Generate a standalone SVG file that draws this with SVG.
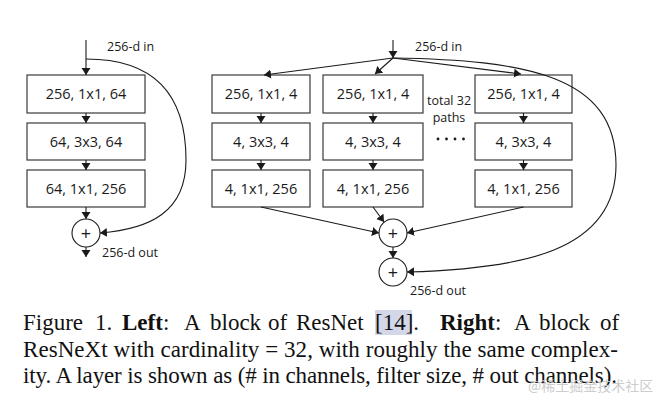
<svg xmlns="http://www.w3.org/2000/svg" width="664" height="408" viewBox="0 0 664 408">
<defs>
<style>
.box{fill:#fff;stroke:#3a3a3a;stroke-width:1.2}
.lbl{font-family:"Open Sans","Liberation Sans",sans-serif;font-size:14.5px;fill:#1a1a1a;text-anchor:middle}
.sm{font-family:"Open Sans","Liberation Sans",sans-serif;font-size:12.5px;fill:#1a1a1a}
.ar{fill:none;stroke:#1a1a1a;stroke-width:1.1;marker-end:url(#ah)}
.cir{fill:#fff;stroke:#1a1a1a;stroke-width:1.1}
.plus{font-family:"Open Sans","Liberation Sans",sans-serif;font-size:18px;fill:#1a1a1a;text-anchor:middle}
.cap{font-family:"Liberation Serif","Times New Roman",serif;font-size:23px;fill:#111}
.b{font-weight:bold}
</style>
<marker id="ah" markerUnits="userSpaceOnUse" markerWidth="8" markerHeight="10" refX="7" refY="5" orient="auto">
<path d="M0,0.5 L7,5 L0,9.5 z" fill="#1a1a1a"/>
</marker>
</defs>
<rect width="664" height="408" fill="#fff"/>

<!-- Left: ResNet block -->
<g id="left-in"><text class="sm" x="107" y="51">256-d in</text></g>
<g id="l1"><rect class="box" x="27" y="75" width="118" height="38"/><text class="lbl" x="86" y="99">256, 1x1, 64</text></g>
<g id="l2"><rect class="box" x="27" y="123" width="118" height="37"/><text class="lbl" x="86" y="146.5">64, 3x3, 64</text></g>
<g id="l3"><rect class="box" x="27" y="170" width="118" height="37"/><text class="lbl" x="86" y="193.5">64, 1x1, 256</text></g>
<g id="lsum"><circle class="cir" cx="86" cy="233" r="14"/><text class="plus" x="86" y="239.5">+</text></g>
<g id="left-out"><text class="sm" x="102" y="257">256-d out</text></g>

<!-- Right: ResNeXt block -->
<g id="right-in"><text class="sm" x="415" y="51">256-d in</text></g>
<g id="a1"><rect class="box" x="212" y="75" width="98" height="38"/><text class="lbl" x="261" y="99">256, 1x1, 4</text></g>
<g id="a2"><rect class="box" x="212" y="123" width="98" height="37"/><text class="lbl" x="261" y="146.5">4, 3x3, 4</text></g>
<g id="a3"><rect class="box" x="212" y="170" width="98" height="37"/><text class="lbl" x="261" y="193.5">4, 1x1, 256</text></g>
<g id="b1"><rect class="box" x="323" y="75" width="100" height="38"/><text class="lbl" x="373" y="99">256, 1x1, 4</text></g>
<g id="b2"><rect class="box" x="323" y="123" width="100" height="37"/><text class="lbl" x="373" y="146.5">4, 3x3, 4</text></g>
<g id="b3"><rect class="box" x="323" y="170" width="100" height="37"/><text class="lbl" x="373" y="193.5">4, 1x1, 256</text></g>
<g id="c1"><rect class="box" x="475" y="75" width="97" height="38"/><text class="lbl" x="523.5" y="99">256, 1x1, 4</text></g>
<g id="c2"><rect class="box" x="475" y="123" width="97" height="37"/><text class="lbl" x="523.5" y="146.5">4, 3x3, 4</text></g>
<g id="c3"><rect class="box" x="475" y="170" width="97" height="37"/><text class="lbl" x="523.5" y="193.5">4, 1x1, 256</text></g>
<g id="paths-note">
<text class="sm" x="449" y="105" text-anchor="middle" font-size="12">total 32</text>
<text class="sm" x="449" y="121.5" text-anchor="middle" font-size="12">paths</text>
<g fill="#1a1a1a"><circle cx="438" cy="139" r="1.4"/><circle cx="446.5" cy="139" r="1.4"/><circle cx="455" cy="139" r="1.4"/><circle cx="463.5" cy="139" r="1.4"/></g>
</g>
<g id="rsum1"><circle class="cir" cx="393" cy="233" r="14"/><text class="plus" x="393" y="239.5">+</text></g>
<g id="rsum2"><circle class="cir" cx="393" cy="272" r="14"/><text class="plus" x="393" y="278.5">+</text></g>
<g id="right-out"><text class="sm" x="410" y="295">256-d out</text></g>

<!-- Connectors -->
<g id="connectors">
<path class="ar" d="M86,40 V75"/>
<path class="ar" d="M86,113 V123"/>
<path class="ar" d="M86,160 V170"/>
<path class="ar" d="M86,207 V219"/>
<path class="ar" d="M86,247 V257"/>
<path class="ar" d="M86,59 C155,59 186,95 186,160 C186,212 150,229 100,233"/>
<path class="ar" d="M393,40 V58"/>
<path class="ar" d="M393,58 L264,75"/>
<path class="ar" d="M393,58 L375,74"/>
<path class="ar" d="M393,58 L521,74"/>
<path class="ar" d="M261,113 V123"/>
<path class="ar" d="M261,160 V170"/>
<path class="ar" d="M373,113 V123"/>
<path class="ar" d="M373,160 V170"/>
<path class="ar" d="M523.5,113 V123"/>
<path class="ar" d="M523.5,160 V170"/>
<path class="ar" d="M261,207 L379,233"/>
<path class="ar" d="M373,207 L384,222"/>
<path class="ar" d="M523.5,207 L407,233"/>
<path class="ar" d="M393,247 V258"/>
<path class="ar" d="M393,58 C525,60 616,75 616,165 C616,252 520,269 407,272"/>
</g>

<!-- Caption -->
<rect x="375" y="310" width="37" height="25" fill="#d3d7e8"/>
<g id="caption">
<text class="cap" y="330"><tspan x="23">Figure</tspan><tspan x="95">1.</tspan><tspan x="122" class="b">Left</tspan><tspan>:</tspan><tspan x="184">A</tspan><tspan x="210">block</tspan><tspan x="268">of</tspan><tspan x="296">ResNet</tspan><tspan x="375">[14].</tspan><tspan x="440" class="b">Right</tspan><tspan>:</tspan><tspan x="514">A</tspan><tspan x="539">block</tspan><tspan x="600">of</tspan></text>
<text class="cap" x="23" y="357" textLength="595" lengthAdjust="spacing">ResNeXt with cardinality = 32, with roughly the same complex-</text>
<text class="cap" x="23" y="383" textLength="594" lengthAdjust="spacing">ity. A layer is shown as (# in channels, filter size, # out channels).</text>
</g>
<text x="528" y="391" font-family="'Noto Sans CJK SC',sans-serif" font-size="14" fill="#c8c8c8" opacity="0.9">@稀土掘金技术社区</text>
</svg>
